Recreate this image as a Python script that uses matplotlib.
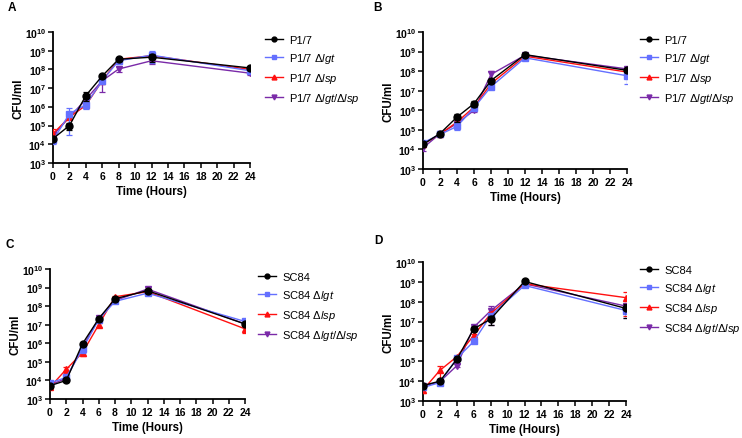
import math

import matplotlib
matplotlib.use("Agg")
import matplotlib.pyplot as plt
import matplotlib.ticker as mticker
from matplotlib.lines import Line2D

plt.rcParams["font.family"] = ["Liberation Sans", "DejaVu Sans"]
plt.rcParams["mathtext.fontset"] = "custom"
plt.rcParams["mathtext.rm"] = "Liberation Sans"
plt.rcParams["mathtext.it"] = "Liberation Sans:italic"
plt.rcParams["mathtext.bf"] = "Liberation Sans:bold"

time_h = [0, 2, 4, 6, 8, 12, 24]
y_decades = [1e3, 1e4, 1e5, 1e6, 1e7, 1e8, 1e9, 1e10]

# Panel A (P1/7 set 1)
a_wt = [2e4, 1e5, 4e6, 4.5e7, 3.5e8, 4.5e8, 1.2e8]
a_wt_err = [5e3, 4.5e4, 2e6, 8e6, 6e7, 2e8, 2e7]
a_lgt = [1.6e4, 4.3e5, 1.3e6, 2.5e7, 2.9e8, 5.8e8, 8.5e7]
a_lgt_err = [5e3, 4e5, 5e5, 8e6, 1e8, 3.7e8, 1.5e7]
a_lsp = [3.7e4, 2.8e5, 1.2e6, 2.5e7, 3.5e8, 5.4e8, 1e8]
a_lsp_err = [2.5e4, 5e4, 3e5, 5e6, 5e7, 1e8, 2e7]
a_dbl = [3e4, 2.8e5, 2.5e6, 2.5e7, 1.05e8, 2.9e8, 6.3e7]
a_dbl_err = [5e3, 5e4, 6e5, 1.9e7, 3e7, 1e8, 1e7]

# Panel B (P1/7 set 2)
b_wt = [1.8e4, 6.5e4, 4.5e5, 2.2e6, 3.3e7, 7e8, 1.1e8]
b_wt_err = [4e3, 8e3, 2e5, 8e5, 8e6, 1e8, 2e7]
b_lgt = [2.2e4, 5.8e4, 1.5e5, 1.35e6, 1.6e7, 4.8e8, 5.8e7]
b_lgt_err = [5e3, 8e3, 5e4, 3e5, 4e6, 5e7, 3.6e7]
b_lsp = [1.9e4, 6e4, 2.5e5, 1.45e6, 2.3e7, 5.8e8, 9e7]
b_lsp_err = [4e3, 6e3, 6e4, 3e5, 5e6, 6e7, 2e7]
b_dbl = [1.2e4, 6.3e4, 2.1e5, 1e6, 6.8e7, 6.5e8, 1.3e8]
b_dbl_err = [4e3, 6e3, 5e4, 2e5, 3e7, 8e7, 3e7]

# Panel C (SC84 set 1)
c_wt = [5.2e3, 1e4, 9.5e5, 2.1e7, 2.5e8, 6.8e8, 1.1e7]
c_wt_err = [1e3, 1.5e3, 1.5e5, 3e6, 4e7, 2e8, 2e6]
c_lgt = [7.3e3, 1.45e4, 5e5, 1.9e7, 1.8e8, 5e8, 1.5e7]
c_lgt_err = [1.5e3, 3e3, 2e5, 3e6, 3e7, 1e8, 3e6]
c_lsp = [4.3e3, 4e4, 3.1e5, 1e7, 3.2e8, 6e8, 6e6]
c_lsp_err = [1e3, 1.5e4, 1e5, 2e6, 4e7, 1e8, 2.5e6]
c_dbl = [5.6e3, 1.3e4, 6e5, 2.2e7, 2e8, 8.3e8, 1.1e7]
c_dbl_err = [1e3, 2e3, 1e5, 3e6, 3e7, 2e8, 2e6]

# Panel D (SC84 set 2)
d_wt = [6e3, 1e4, 1.25e5, 4.3e6, 1.35e7, 1.05e9, 4.6e7]
d_wt_err = [1e3, 1e3, 2e4, 1e6, 6.5e6, 1e8, 3e7]
d_lgt = [4.8e3, 8.5e3, 1.4e5, 1e6, 2e7, 6.6e8, 3.6e7]
d_lgt_err = [1e3, 1e3, 2e4, 2e5, 5e6, 5e7, 2e7]
d_lsp = [3.6e3, 3.5e4, 1.7e5, 2e6, 2.5e7, 8e8, 1.6e8]
d_lsp_err = [1e3, 2.5e4, 2e4, 4e5, 5e6, 6e7, 1.4e8]
d_dbl = [5.6e3, 9.5e3, 6e4, 5.2e6, 3.5e7, 8e8, 6e7]
d_dbl_err = [1e3, 1e3, 1e4, 1e6, 2.8e7, 6e7, 2e7]

colours = ["#000000", "#6470FF", "#FF1010", "#7A2AA8"]
markers = ["o", "s", "^", "v"]
suffixes = ["", r" $\mathit{\Delta lgt}$", r" $\mathit{\Delta lsp}$",
            r" $\mathit{\Delta lgt/\Delta lsp}$"]

W, H = 742, 439
fig = plt.figure(figsize=(W / 100, H / 100), dpi=100)


def px_rect(left, right, top, bottom):
    return [left / W, 1 - bottom / H, (right - left) / W, (bottom - top) / H]


panels = [
    ("A", "P1/7", px_rect(53, 250, 33, 164), (12, 8), (265, 36),
     [(a_wt, a_wt_err), (a_lgt, a_lgt_err), (a_lsp, a_lsp_err), (a_dbl, a_dbl_err)]),
    ("B", "P1/7", px_rect(423, 627, 33, 170), (378, 8), (640, 36),
     [(b_wt, b_wt_err), (b_lgt, b_lgt_err), (b_lsp, b_lsp_err), (b_dbl, b_dbl_err)]),
    ("C", "SC84", px_rect(50, 245, 270, 400), (10, 245), (258, 273),
     [(c_wt, c_wt_err), (c_lgt, c_lgt_err), (c_lsp, c_lsp_err), (c_dbl, c_dbl_err)]),
    ("D", "SC84", px_rect(423, 626, 263, 402), (378, 241), (640, 266),
     [(d_wt, d_wt_err), (d_lgt, d_lgt_err), (d_lsp, d_lsp_err), (d_dbl, d_dbl_err)]),
]

for letter, strain, rect, letter_xy, leg_xy, series in panels:
    ax = fig.add_axes(rect)
    # draw in reverse so the wild type sits on top
    for i in reversed(range(4)):
        vals, err = series[i]
        ax.errorbar(time_h, vals, yerr=err, color=colours[i], marker=markers[i],
                    markersize=5, lw=1.0, elinewidth=0.9, capsize=2.2,
                    capthick=0.9, zorder=3 + (4 - i))
    ax.set_yscale("log")
    ax.set_ylim(1e3, 1e10)
    ax.set_xlim(0, 24)
    ax.set_xticks(range(0, 25, 2))
    ax.yaxis.set_major_locator(mticker.FixedLocator(y_decades))
    ax.yaxis.set_minor_locator(mticker.NullLocator())
    ax.yaxis.set_major_formatter(mticker.FuncFormatter(
        lambda v, p: r"$\mathbf{10^{%d}}$" % round(math.log10(v))))
    for lab in ax.get_xticklabels():
        lab.set_fontweight("bold")
    ax.tick_params(axis="both", labelsize=7.5, width=1.1, length=3.5, pad=2.5)
    ax.tick_params(axis="y", labelsize=7.5, pad=1.5)
    for side in ("top", "right"):
        ax.spines[side].set_visible(False)
    for side in ("left", "bottom"):
        ax.spines[side].set_linewidth(1.3)
    ax.set_xlabel("Time (Hours)", fontsize=8.3, fontweight="bold", labelpad=3)
    ax.set_ylabel("CFU/ml", fontsize=8.3, fontweight="bold")
    ax_w = rect[2] * W
    ax.yaxis.set_label_coords(-28 / ax_w, 0.5)

    handles = [Line2D([], [], color=colours[i], marker=markers[i], markersize=3.5,
                      lw=1.0) for i in range(4)]
    labels = [strain + s for s in suffixes]
    fig.legend(handles, labels, loc="upper left",
               bbox_to_anchor=(leg_xy[0] / W, 1 - leg_xy[1] / H),
               frameon=False, fontsize=8, handlelength=1.6, handletextpad=0.6,
               labelspacing=0.55, borderpad=0, borderaxespad=0)

    fig.text(letter_xy[0] / W, 1 - letter_xy[1] / H, letter, fontsize=8.5,
             fontweight="bold", ha="center", va="center")

fig.savefig("out.png", dpi=100)
